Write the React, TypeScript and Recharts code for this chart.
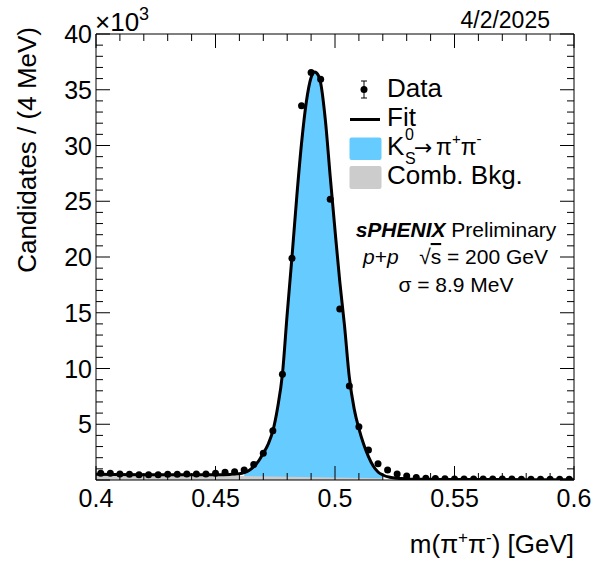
import { Area, ComposedChart, Line, Scatter, XAxis, YAxis } from 'recharts'

// invariant mass bin centres [GeV] and candidates per 4 MeV bin (x10^3)
const binCenters = [
  0.402, 0.406, 0.41, 0.414, 0.418, 0.422, 0.426, 0.43, 0.434, 0.438,
  0.442, 0.446, 0.45, 0.454, 0.458, 0.462, 0.466, 0.47, 0.474, 0.478,
  0.482, 0.486, 0.49, 0.494, 0.498, 0.502, 0.506, 0.51, 0.514, 0.518,
  0.522, 0.526, 0.53, 0.534, 0.538, 0.542, 0.546, 0.55, 0.554, 0.558,
  0.562, 0.566, 0.57, 0.574, 0.578, 0.582, 0.586, 0.59, 0.594, 0.598,
]
const counts = [
  0.6, 0.6, 0.54, 0.51, 0.48, 0.48, 0.48, 0.51, 0.51, 0.54,
  0.54, 0.54, 0.6, 0.69, 0.75, 0.9, 1.4, 2.4, 4.42, 9.48,
  19.88, 33.57, 36.55, 35.94, 25.17, 15.34, 8.43, 4.78, 2.69, 1.45,
  0.9, 0.54, 0.36, 0.22, 0.15, 0.13, 0.11, 0.1, 0.1, 0.09,
  0.09, 0.08, 0.08, 0.08, 0.07, 0.07, 0.07, 0.07, 0.06, 0.06,
]

// total fit curve
const fitMass = [
  0.4, 0.42, 0.44, 0.45, 0.456, 0.46, 0.462, 0.464, 0.466, 0.468, 0.47,
  0.472, 0.474, 0.476, 0.478, 0.48, 0.482, 0.484, 0.486, 0.488, 0.49,
  0.4915, 0.493, 0.494, 0.496, 0.498, 0.5, 0.502, 0.504, 0.506, 0.508,
  0.51, 0.512, 0.514, 0.516, 0.518, 0.52, 0.523, 0.526, 0.53, 0.54, 0.56, 0.6,
]
const fitValue = [
  0.52, 0.48, 0.46, 0.47, 0.5, 0.56, 0.66, 0.85, 1.2, 1.7, 2.4,
  3.2, 4.4, 6.5, 9.5, 14.9, 20.0, 25.4, 30.2, 33.9, 36.1,
  36.6, 36.3, 35.6, 32.2, 27.2, 22.4, 17.8, 13.8, 9.2, 6.4,
  4.6, 3.2, 2.1, 1.25, 0.72, 0.45, 0.24, 0.15, 0.1, 0.06, 0.04, 0.03,
]
// K0S signal fill range
const sigRange = [0.462, 0.52]
// combinatorial background component
const bkgMass = [0.4, 0.44, 0.48, 0.52]
const bkgValue = [0.5, 0.42, 0.3, 0.16]

const xMajor = [0.4, 0.45, 0.5, 0.55, 0.6]
const xLabels = ['0.4', '0.45', '0.5', '0.55', '0.6']
const xTicks = [
  0.4, 0.41, 0.42, 0.43, 0.44, 0.45, 0.46, 0.47, 0.48, 0.49, 0.5,
  0.51, 0.52, 0.53, 0.54, 0.55, 0.56, 0.57, 0.58, 0.59, 0.6,
]
const yMajor = [0, 5, 10, 15, 20, 25, 30, 35, 40]
const yLabels = ['', '5', '10', '15', '20', '25', '30', '35', '40']
const yTicks = Array.from({ length: 41 }, (_, i) => i)

const FONT = '"Liberation Sans", Arial, Helvetica, sans-serif'
const BLUE = '#66ccff'
const GRAY = '#cccccc'

const table = fitMass.map((m, i) => {
  const b = bkgMass.indexOf(m)
  return {
    m,
    fit: fitValue[i],
    sig: m >= sigRange[0] && m <= sigRange[1] ? fitValue[i] : null,
    bkg: b >= 0 ? bkgValue[b] : null,
  }
})
const points = binCenters.map((m, i) => ({ m, n: counts[i] }))

const near = (a: number, b: number) => Math.abs(a - b) < 1e-9

const BottomTick = (props: any) => {
  const { x, y, payload } = props
  const k = xMajor.findIndex((v) => near(v, payload.value))
  return (
    <g>
      <line x1={x} x2={x} y1={y} y2={y - (k >= 0 ? 14 : 7)} stroke="#000" />
      {k >= 0 && (
        <text x={x} y={y + 27} textAnchor="middle" fontSize={25} fontFamily={FONT} fill="#000">
          {xLabels[k]}
        </text>
      )}
    </g>
  )
}

const TopTick = (props: any) => {
  const { x, y, payload } = props
  const major = xMajor.some((v) => near(v, payload.value))
  return <line x1={x} x2={x} y1={y} y2={y + (major ? 14 : 7)} stroke="#000" />
}

const LeftTick = (props: any) => {
  const { x, y, payload } = props
  const k = yMajor.indexOf(payload.value)
  return (
    <g>
      <line x1={x} x2={x + (k >= 0 ? 14 : 7)} y1={y} y2={y} stroke="#000" />
      {k >= 0 && (
        <text x={x - 4} y={y} dy="0.36em" textAnchor="end" fontSize={25} fontFamily={FONT} fill="#000">
          {yLabels[k]}
        </text>
      )}
    </g>
  )
}

const RightTick = (props: any) => {
  const { x, y, payload } = props
  const major = yMajor.includes(payload.value)
  return <line x1={x} x2={x - (major ? 14 : 7)} y1={y} y2={y} stroke="#000" />
}

const DataDot = (props: any) => <circle cx={props.cx} cy={props.cy} r={3.5} fill="#000" />

const Overlay = () => (
  <svg
    width={597}
    height={561}
    style={{ position: 'absolute', left: 0, top: 0, pointerEvents: 'none' }}
    fontFamily={FONT}
  >
    <text x={95} y={31} fontSize={26}>
      ×10
      <tspan fontSize={18} dy={-11}>3</tspan>
    </text>
    <text x={550} y={28} fontSize={23} textAnchor="end">4/2/2025</text>
    <text x={36} y={27} fontSize={26} textAnchor="end" transform="rotate(-90 36 27)">
      Candidates / (4 MeV)
    </text>
    <text x={574} y={553} fontSize={26} textAnchor="end">
      m(π<tspan fontSize={17} dy={-10}>+</tspan>
      <tspan dy={10}>π</tspan>
      <tspan fontSize={17} dy={-10}>-</tspan>
      <tspan dy={10}>) [GeV]</tspan>
    </text>

    {/* legend */}
    <line x1={364} x2={364} y1={81} y2={98} stroke="#000" />
    <line x1={361} x2={367} y1={81} y2={81} stroke="#000" />
    <line x1={361} x2={367} y1={98} y2={98} stroke="#000" />
    <circle cx={364} cy={89.5} r={3.5} fill="#000" />
    <text x={387} y={97} fontSize={26}>Data</text>
    <line x1={350} x2={380} y1={119.5} y2={119.5} stroke="#000" strokeWidth={3} />
    <text x={387} y={126} fontSize={26}>Fit</text>
    <rect x={349.5} y={137.5} width={32} height={22.5} rx={2} fill={BLUE} />
    <text x={387} y={155} fontSize={26}>K</text>
    <text x={405} y={140} fontSize={16}>0</text>
    <text x={405} y={164} fontSize={16}>S</text>
    <text x={414} y={155} fontSize={22} fontFamily="DejaVu Sans">→</text>
    <text x={436} y={155} fontSize={23}>
      π<tspan fontSize={15} dy={-11}>+</tspan>
      <tspan dy={11}>π</tspan>
      <tspan fontSize={15} dy={-11}>-</tspan>
    </text>
    <rect x={349.5} y={166} width={32} height={23} rx={2} fill={GRAY} />
    <text x={387} y={184} fontSize={26}>Comb. Bkg.</text>

    <text x={456} y={237} fontSize={21} textAnchor="middle">
      <tspan fontWeight="bold" fontStyle="italic">sPHENIX</tspan> Preliminary
    </text>
    <text x={363} y={264} fontSize={21}>
      <tspan fontStyle="italic">p</tspan>+<tspan fontStyle="italic">p</tspan>
    </text>
    <text x={548} y={264} fontSize={21} textAnchor="end">
      √<tspan style={{ textDecoration: 'overline' }}>s</tspan> = 200 GeV
    </text>
    <text x={456} y={292} fontSize={21} textAnchor="middle">σ = 8.9 MeV</text>
  </svg>
)

export default function App() {
  return (
    <div style={{ position: 'absolute', left: 0, top: 0, width: 597, height: 561, background: '#fff' }}>
      <ComposedChart
        width={597}
        height={561}
        data={table}
        margin={{ top: 33, right: 22, bottom: 0, left: 0 }}
      >
        <XAxis
          dataKey="m"
          type="number"
          domain={[0.4, 0.6]}
          ticks={xTicks}
          interval={0}
          height={81}
          tickSize={0}
          tickMargin={0}
          tickLine={false}
          axisLine={{ stroke: '#000' }}
          tick={<BottomTick />}
          allowDataOverflow
        />
        <XAxis
          xAxisId="top"
          orientation="top"
          dataKey="m"
          type="number"
          domain={[0.4, 0.6]}
          ticks={xTicks}
          interval={0}
          height={1}
          tickSize={0}
          tickMargin={0}
          tickLine={false}
          axisLine={{ stroke: '#000' }}
          tick={<TopTick />}
          allowDataOverflow
        />
        <YAxis
          type="number"
          domain={[0, 40]}
          ticks={yTicks}
          interval={0}
          width={96}
          tickSize={0}
          tickMargin={0}
          tickLine={false}
          axisLine={{ stroke: '#000' }}
          tick={<LeftTick />}
          allowDataOverflow
        />
        <YAxis
          yAxisId="right"
          orientation="right"
          type="number"
          domain={[0, 40]}
          ticks={yTicks}
          interval={0}
          width={1}
          tickSize={0}
          tickMargin={0}
          tickLine={false}
          axisLine={{ stroke: '#000' }}
          tick={<RightTick />}
          allowDataOverflow
        />
        <Area
          dataKey="sig"
          type="monotone"
          stroke="none"
          fill={BLUE}
          fillOpacity={1}
          connectNulls
          isAnimationActive={false}
        />
        <Area
          dataKey="bkg"
          type="linear"
          stroke="none"
          fill={GRAY}
          fillOpacity={1}
          connectNulls
          isAnimationActive={false}
        />
        <Line
          dataKey="fit"
          type="monotone"
          stroke="#000"
          strokeWidth={3}
          dot={false}
          connectNulls
          isAnimationActive={false}
        />
        <Scatter data={points} dataKey="n" shape={<DataDot />} isAnimationActive={false} />
      </ComposedChart>
      <Overlay />
    </div>
  )
}
